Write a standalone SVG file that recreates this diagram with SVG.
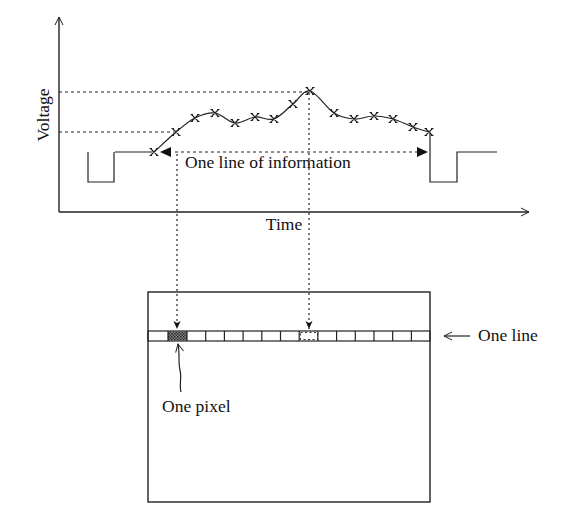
<svg xmlns="http://www.w3.org/2000/svg" width="588" height="513" viewBox="0 0 588 513">
<defs>
<style>
.ln{fill:none;stroke:#222;stroke-width:1.2}
.ax{fill:none;stroke:#222;stroke-width:1.4}
.dash{fill:none;stroke:#222;stroke-width:1;stroke-dasharray:3,3}
.dot{fill:none;stroke:#222;stroke-width:1.2;stroke-dasharray:2,3}
.mk{fill:none;stroke:#222;stroke-width:1.1}
text{font-family:"Liberation Serif","Times New Roman",serif;font-size:17.5px;fill:#111}
</style>
<marker id="open" markerWidth="10" markerHeight="10" refX="9" refY="5" orient="auto" markerUnits="userSpaceOnUse">
<path d="M1,1 L9,5 L1,9" fill="none" stroke="#222" stroke-width="1"/>
</marker>
<marker id="down" markerWidth="10" markerHeight="10" refX="8" refY="5" orient="auto" markerUnits="userSpaceOnUse">
<path d="M0,1.5 L8,5 L0,8.5 L2,5 Z" fill="#111"/>
</marker>
<path id="x" d="M-3.5,-3.5 L3.5,3.5 M3.5,-3.5 L-3.5,3.5 M-4.5,-3.5 H-2 M2,-3.5 H4.5 M-4.5,3.5 H-2 M2,3.5 H4.5" class="mk"/>
<pattern id="hatch" width="3" height="3" patternUnits="userSpaceOnUse">
<rect width="3" height="3" fill="#888"/>
<rect width="1.5" height="1.5" fill="#222"/>
<rect x="1.5" y="1.5" width="1.5" height="1.5" fill="#333"/>
</pattern>
</defs>

<g id="axes">
<path class="ax" d="M59,212 V17" marker-end="url(#open)"/>
<path class="ax" d="M59,212 H529" marker-end="url(#open)"/>
</g>

<g id="labels">
<text x="49" y="115" text-anchor="middle" transform="rotate(-90 49 115)">Voltage</text>
<text x="284" y="230" text-anchor="middle">Time</text>
<text x="185" y="168">One line of information</text>
<text x="478" y="341">One line</text>
<text x="162" y="412">One pixel</text>
</g>

<g id="signal">
<path class="ln" d="M115,152 H154 M88,152 V182 H114 V152"/>
<path class="ln" d="M430,132 V182 H457 V152 H497"/>
<path class="ln" d="M154,152 C157.7,148.7 169.2,137.7 176,132 C182.8,126.3 188.5,121.2 195,118 C201.5,114.8 208.3,112.2 215,113 C221.7,113.8 228.3,122.3 235,123 C241.7,123.7 248.5,117.7 255,117 C261.5,116.3 267.7,121.2 274,119 C280.3,116.8 287,108.7 293,104 C299,99.3 303.2,89.5 310,91 C316.8,92.5 326.7,108.3 334,113 C341.3,117.7 347.3,118.5 354,119 C360.7,119.5 367.5,116 374,116 C380.5,116 386.5,117.2 393,119 C399.5,120.8 407,124.8 413,127 C419,129.2 426.3,131.2 429,132"/>
</g>

<g id="markers">
<use href="#x" x="154" y="152"/>
<use href="#x" x="176" y="132"/>
<use href="#x" x="195" y="118"/>
<use href="#x" x="215" y="113"/>
<use href="#x" x="235" y="123"/>
<use href="#x" x="255" y="117"/>
<use href="#x" x="274" y="119"/>
<use href="#x" x="293" y="104"/>
<use href="#x" x="310" y="91"/>
<use href="#x" x="334" y="113"/>
<use href="#x" x="354" y="119"/>
<use href="#x" x="374" y="116"/>
<use href="#x" x="393" y="119"/>
<use href="#x" x="413" y="127"/>
<use href="#x" x="429" y="132"/>
</g>

<g id="connectors">
<path class="dash" d="M59,92 H308"/>
<path class="dash" d="M59,132 H174"/>
<path class="dash" d="M175,152 H417"/>
<path d="M160,152 L171,147 L171,157 Z" fill="#111"/>
<path d="M428,152 L417,147 L417,157 Z" fill="#111"/>
<path class="dot" d="M177,154 V329" marker-end="url(#down)"/>
<path class="dot" d="M309,93 V329" marker-end="url(#down)"/>
<path class="ln" d="M470,336 H444" marker-end="url(#open)"/>
<path class="ln" d="M181,392 C179,385 182,378 180,370 C178,362 180,354 178,344" marker-end="url(#open)"/>
</g>

<g id="screen">
<rect x="148" y="292" width="282" height="210" class="ax"/>
<rect x="148" y="331" width="282" height="10" class="ln"/>
<rect x="168" y="331" width="19" height="10" fill="url(#hatch)"/>
<rect x="300.5" y="332.5" width="17" height="7" fill="none" stroke="#333" stroke-width="1" stroke-dasharray="2,2.5"/>
<path class="ln" d="M168,331 V341 M187,331 V341 M205.7,331 V341 M224.4,331 V341 M243.1,331 V341 M261.8,331 V341 M280.5,331 V341 M299.2,331 V341 M317.9,331 V341 M336.6,331 V341 M355.3,331 V341 M374,331 V341 M392.7,331 V341 M411.4,331 V341"/>
</g>
</svg>
